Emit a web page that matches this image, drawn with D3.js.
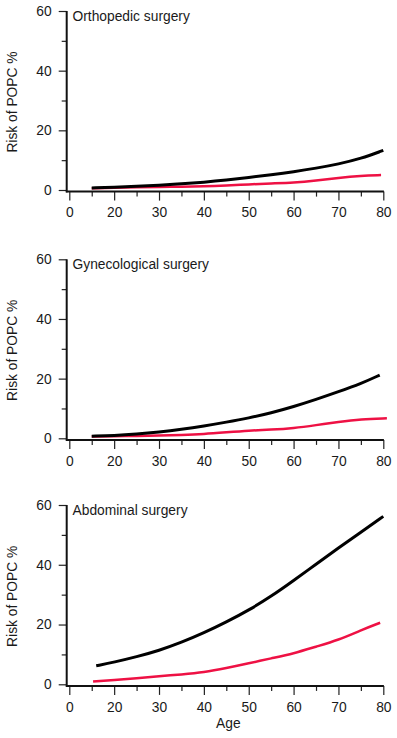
<!DOCTYPE html>
<html>
<head>
<meta charset="utf-8">
<script src="https://cdn.jsdelivr.net/npm/d3@7"></script>
<style>
  body { margin: 0; background: #fff; }
  svg text { font-family: "Liberation Sans", Arial, Helvetica, sans-serif; fill: #1a1a1a; }
</style>
</head>
<body>
<svg id="canvas"></svg>
<script>
let width = 397;
let height = 738;

// data (age in years, risk in %)
const titles = ['Orthopedic surgery', 'Gynecological surgery', 'Abdominal surgery'];

const orthoAgeBlack = [15, 20, 25, 30, 35, 40, 45, 50, 55, 60, 65, 70, 75, 80];
const orthoBlack = [0.7, 0.9, 1.2, 1.6, 2.1, 2.6, 3.3, 4.2, 5.1, 6.1, 7.3, 8.7, 10.5, 13.3];
const orthoAgeRed = [15, 20, 25, 30, 35, 40, 45, 50, 55, 60, 65, 70, 75, 79.5];
const orthoRed = [0.6, 0.7, 0.9, 1.0, 1.1, 1.2, 1.5, 1.9, 2.2, 2.4, 3.1, 4.1, 4.8, 5.0];

const gynAgeBlack = [15, 20, 25, 30, 35, 40, 45, 50, 55, 60, 65, 70, 75, 79.2];
const gynBlack = [0.7, 0.9, 1.4, 2.1, 3.0, 4.1, 5.4, 6.8, 8.5, 10.6, 13.0, 15.6, 18.3, 21.2];
const gynAgeRed = [15, 20, 25, 30, 35, 40, 45, 50, 55, 60, 65, 70, 75, 80.8];
const gynRed = [0.6, 0.7, 0.8, 0.9, 1.1, 1.4, 2.0, 2.6, 2.9, 3.4, 4.4, 5.5, 6.4, 6.7];

const abdAgeBlack = [16, 20, 25, 30, 35, 40, 45, 50, 55, 60, 65, 70, 75, 80];
const abdBlack = [6.2, 7.4, 9.2, 11.3, 14.0, 17.2, 20.8, 24.8, 29.4, 34.7, 40.2, 45.6, 50.9, 56.2];
const abdAgeRed = [15.3, 20, 25, 30, 35, 40, 45, 50, 55, 60, 65, 70, 75, 79.3];
const abdRed = [0.9, 1.4, 2.0, 2.7, 3.3, 4.0, 5.4, 7.0, 8.7, 10.3, 12.6, 14.8, 18.1, 20.6];

// the axis is broken: first tick is labelled 0 but sits where 10 would be
const xMajorTicks = [10, 20, 30, 40, 50, 60, 70, 80];
const xMajorLabels = ['0', '20', '30', '40', '50', '60', '70', '80'];
const xMinorTicks = [15, 25, 35, 45, 55, 65, 75];
const yMajorTicks = [0, 20, 40, 60];
const yMinorTicks = [10, 30, 50];

const panels = [
    { title: titles[0], top: 11, bottom: 190,
      black: orthoAgeBlack.map((a, i) => [a, orthoBlack[i]]),
      red: orthoAgeRed.map((a, i) => [a, orthoRed[i]]) },
    { title: titles[1], top: 259.3, bottom: 438.3,
      black: gynAgeBlack.map((a, i) => [a, gynBlack[i]]),
      red: gynAgeRed.map((a, i) => [a, gynRed[i]]) },
    { title: titles[2], top: 505, bottom: 684.3,
      black: abdAgeBlack.map((a, i) => [a, abdBlack[i]]),
      red: abdAgeRed.map((a, i) => [a, abdRed[i]]) },
];

let canvas = d3.select('#canvas').attr('width', width).attr('height', height);

let axisX = 66.7;
let xScale = d3.scaleLinear().domain([10, 80]).range([69.3, 383.3]);

panels.forEach((p, idx) => {
    let yScale = d3.scaleLinear().domain([0, 60]).range([p.bottom, p.top]);
    let xLineY = p.bottom + 1.6;
    let g = canvas.append('g');

    // y axis
    let yMajor = d3.axisLeft(yScale).tickValues(yMajorTicks).tickSize(8).tickPadding(7);
    let yMinor = d3.axisLeft(yScale).tickValues(yMinorTicks).tickSize(5).tickFormat('');
    [yMajor, yMinor].forEach((ax) => {
        g.append('g')
            .attr('transform', `translate(${axisX}, 0)`)
            .call(ax)
            .call((s) => s.select('.domain').remove());
    });

    // x axis
    let xMajor = d3.axisBottom(xScale).tickValues(xMajorTicks).tickSize(9).tickPadding(7)
        .tickFormat((d, i) => xMajorLabels[i]);
    let xMinor = d3.axisBottom(xScale).tickValues(xMinorTicks).tickSize(5).tickFormat('');
    [xMajor, xMinor].forEach((ax) => {
        g.append('g')
            .attr('transform', `translate(0, ${xLineY})`)
            .call(ax)
            .call((s) => s.select('.domain').remove());
    });

    g.selectAll('.tick line').attr('stroke', '#222').attr('stroke-width', 1.2);
    g.selectAll('.tick text').attr('font-size', 13.8).attr('fill', '#1a1a1a');

    // axis lines
    g.append('line')
        .attr('x1', axisX).attr('x2', axisX)
        .attr('y1', p.top).attr('y2', xLineY + 0.8)
        .attr('stroke', '#111').attr('stroke-width', 2);
    g.append('line')
        .attr('x1', axisX - 0.8).attr('x2', xScale(80) + 0.6)
        .attr('y1', xLineY).attr('y2', xLineY)
        .attr('stroke', '#111').attr('stroke-width', 2);

    // title
    g.append('text')
        .attr('x', 72.5).attr('y', p.top + 10)
        .attr('font-size', 13.8)
        .text(p.title);

    // y label
    g.append('text')
        .attr('transform', `translate(17, ${p.bottom - 88}) rotate(-90)`)
        .attr('text-anchor', 'middle')
        .attr('font-size', 13.8)
        .text('Risk of POPC %');

    let line = d3.line()
        .x((d) => xScale(d[0]))
        .y((d) => yScale(d[1]))
        .curve(d3.curveBasis);

    g.append('path')
        .datum(p.red)
        .attr('d', line)
        .attr('fill', 'none')
        .attr('stroke', '#ee1144')
        .attr('stroke-width', 2.5);

    g.append('path')
        .datum(p.black)
        .attr('d', line)
        .attr('fill', 'none')
        .attr('stroke', '#000')
        .attr('stroke-width', 3);

    if (idx === panels.length - 1) {
        g.append('text')
            .attr('x', 228.3).attr('y', 727.5)
            .attr('text-anchor', 'middle')
            .attr('font-size', 13.8)
            .text('Age');
    }
});
</script>
</body>
</html>
